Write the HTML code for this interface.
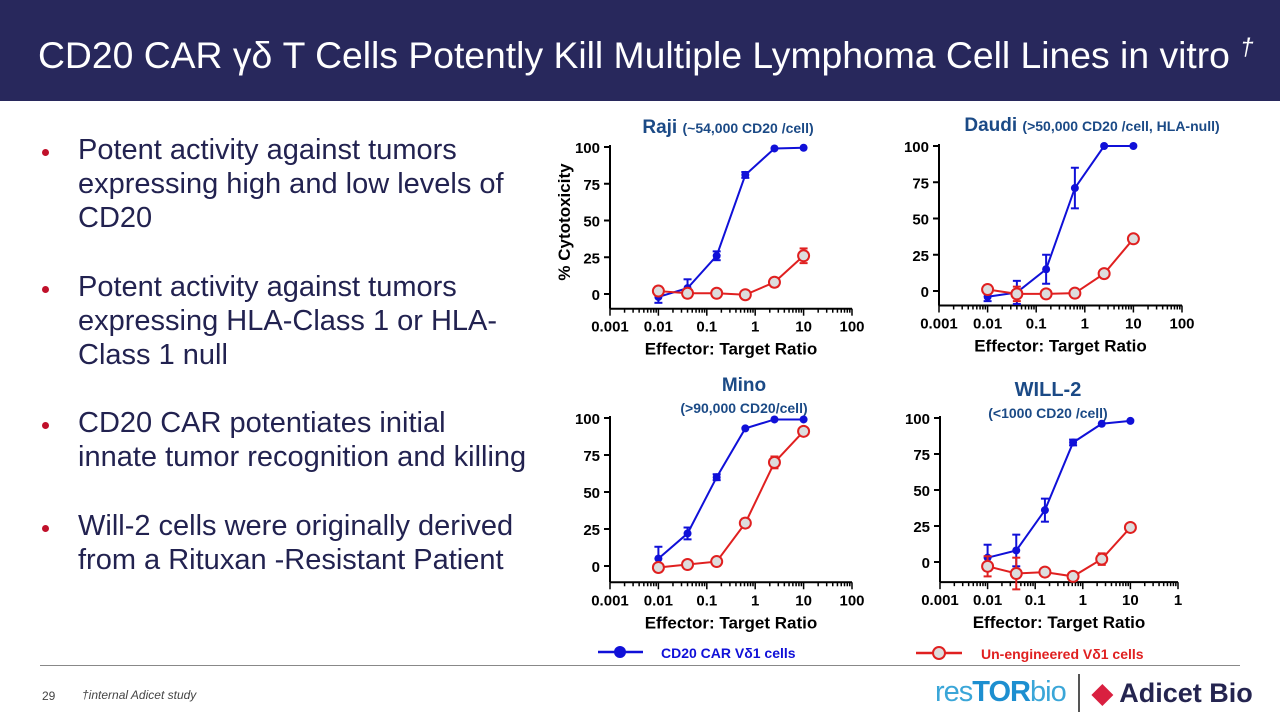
<!DOCTYPE html>
<html><head><meta charset="utf-8">
<style>
body{margin:0;width:1280px;height:720px;overflow:hidden;background:#fff;font-family:"Liberation Sans",sans-serif;position:relative}
#bar{position:absolute;left:0;top:0;width:1280px;height:101px;background:#28285c}
#title{position:absolute;left:38px;top:34px;color:#fff;font-size:37.3px;white-space:nowrap}
ul{position:absolute;left:38px;top:133px;margin:0;padding:0;list-style:none;color:#222250;font-size:29px;line-height:34.2px;width:502px}
li{position:relative;padding-left:40px;margin-bottom:34px}
li::before{content:"";position:absolute;left:4px;top:16px;width:7px;height:7px;border-radius:50%;background:#c0102a}
#rule{position:absolute;left:40px;top:665px;width:1200px;height:1px;background:#888}
#pg{position:absolute;left:42px;top:689px;font-size:12px;color:#444}
#fn{position:absolute;left:82px;top:688px;font-size:12px;font-style:italic;color:#444}
svg{position:absolute;left:0;top:0}
</style></head><body>
<div id="bar"></div>
<div id="title">CD20 CAR γδ T Cells Potently Kill Multiple Lymphoma Cell Lines in vitro <i style="font-size:24px;vertical-align:top">†</i></div>
<ul>
<li>Potent activity against tumors expressing high and low levels of CD20</li>
<li>Potent activity against tumors expressing HLA-Class 1 or HLA-Class 1 null</li>
<li>CD20 CAR potentiates initial<br>innate tumor recognition and killing</li>
<li>Will-2 cells were originally derived from a Rituxan -Resistant Patient</li>
</ul>
<div id="rule"></div>
<div id="pg">29</div>
<div id="fn">†internal Adicet study</div>
<div style="position:absolute;left:935px;top:676px;font-size:29px;color:#3aa6d8;letter-spacing:-1px">res<b style="color:#1d8fd0">TOR</b>bio</div>
<div style="position:absolute;left:1078px;top:674px;width:2px;height:38px;background:#555"></div>
<div style="position:absolute;left:1092px;top:678px;font-size:27px;font-weight:bold;color:#252550"><span style="color:#d92040">◆</span> Adicet Bio</div>
<svg id="svg" width="1280" height="720"></svg>
<script>
const xs=[0.01,0.04,0.16,0.625,2.5,10];
const rajiBlue=[-2,4,26,81,99,99.5], rajiBlueErr=[4,6,3,2,0,0];
const rajiRed=[2,0.5,0.5,-0.5,8,26], rajiRedErr=[3,3,0,0,3,5];
const daudiBlue=[-4,-1,15,71,100,100], daudiBlueErr=[3,8,10,14,0,0];
const daudiRed=[1,-2,-2,-1.5,12,36], daudiRedErr=[3,5,0,0,0,0];
const minoBlue=[5,22,60,93,99,99], minoBlueErr=[8,4,2,0,0,0];
const minoRed=[-1,1,3,29,70,91], minoRedErr=[0,0,0,3,4,0];
const willBlue=[3,8,36,83,96,98], willBlueErr=[9,11,8,2,0,0];
const willRed=[-3,-8,-7,-10,2,24], willRedErr=[7,11,0,2,4,0];
const yTicks=[0,25,50,75,100];
const xTickLabels=["0.001","0.01","0.1","1","10","100"];
const NS="http://www.w3.org/2000/svg";
const svg=document.getElementById('svg');
function mk(t,a,p){const e=document.createElementNS(NS,t);for(const k in a)e.setAttribute(k,a[k]);(p||svg).appendChild(e);return e;}
function chart(c){
  const g=mk('g',{});
  
  
  const X=v=>c.x0+(Math.log10(v)+3)/5*(c.x1-c.x0);
  const Y=v=>c.y0-(v/100)*(c.y0-c.y100);
  const yb=Y(c.ymin);
  mk('line',{x1:c.x0,y1:Y(100)-2,x2:c.x0,y2:yb,stroke:'#000','stroke-width':2},g);
  mk('line',{x1:c.x0,y1:yb,x2:c.x1,y2:yb,stroke:'#000','stroke-width':2},g);
  yTicks.forEach(t=>{mk('line',{x1:c.x0-6,y1:Y(t),x2:c.x0,y2:Y(t),stroke:'#000','stroke-width':2},g);
    const tx=mk('text',{x:c.x0-10,y:Y(t)+6,'text-anchor':'end','font-size':15,'font-weight':'bold'},g);tx.textContent=t;});
  for(let d=-3;d<2;d++)for(let m=1;m<10;m++){const v=m*Math.pow(10,d);
    mk('line',{x1:X(v),y1:yb,x2:X(v),y2:yb+(m==1?7:4),stroke:'#000','stroke-width':1.5},g);}
  mk('line',{x1:c.x1,y1:yb,x2:c.x1,y2:yb+7,stroke:'#000','stroke-width':1.5},g);
  xTickLabels.forEach((l,i)=>{const tx=mk('text',{x:X(Math.pow(10,i-3)),y:yb+23,'text-anchor':'middle','font-size':15,'font-weight':'bold'},g);tx.textContent=c.lastLabel&&i==5?c.lastLabel:l;});
  const xl=mk('text',{x:(c.x0+c.x1)/2,y:yb+46,'text-anchor':'middle','font-size':17,'font-weight':'bold'},g);xl.textContent='Effector: Target Ratio';
  c.titles.forEach(t=>{const e=mk('text',{x:t[0],y:t[1],'text-anchor':'middle','font-size':t[3],'font-weight':'bold',fill:'#1b4a86'},g);e.innerHTML=t[2];});
  [[c.blue,c.blueErr,'#1010d8',true],[c.red,c.redErr,'#e02020',false]].forEach(([ys,er,col,filled])=>{
    mk('polyline',{points:xs.map((x,i)=>X(x)+','+Y(ys[i])).join(' '),fill:'none',stroke:col,'stroke-width':2},g);
    xs.forEach((x,i)=>{if(er[i]>0){const a=X(x);
      mk('line',{x1:a,y1:Y(ys[i]-er[i]),x2:a,y2:Y(ys[i]+er[i]),stroke:col,'stroke-width':2},g);
      mk('line',{x1:a-4,y1:Y(ys[i]-er[i]),x2:a+4,y2:Y(ys[i]-er[i]),stroke:col,'stroke-width':2},g);
      mk('line',{x1:a-4,y1:Y(ys[i]+er[i]),x2:a+4,y2:Y(ys[i]+er[i]),stroke:col,'stroke-width':2},g);}
      const p=mk('circle',filled?{cx:X(x),cy:Y(ys[i]),r:4,fill:col}:{cx:X(x),cy:Y(ys[i]),r:5.5,fill:'#ddd',stroke:col,'stroke-width':2},g);
      
      });
  });
}
chart({name:'raji-chart',x0:610,x1:852,y0:294,y100:147,ymin:-10,blue:rajiBlue,blueErr:rajiBlueErr,red:rajiRed,redErr:rajiRedErr,
  titles:[[728,133,'Raji <tspan font-size="14">(~54,000 CD20 /cell)</tspan>',19]]});
chart({name:'daudi-chart',x0:939,x1:1182,y0:291,y100:146,ymin:-10,blue:daudiBlue,blueErr:daudiBlueErr,red:daudiRed,redErr:daudiRedErr,
  titles:[[1092,131,'Daudi <tspan font-size="14">(&gt;50,000 CD20 /cell, HLA-null)</tspan>',19]]});
chart({name:'mino-chart',x0:610,x1:852,y0:566,y100:418,ymin:-11,blue:minoBlue,blueErr:minoBlueErr,red:minoRed,redErr:minoRedErr,
  titles:[[744,391,'Mino',19],[744,413,'(&gt;90,000 CD20/cell)',14]]});
chart({name:'will2-chart',x0:940,x1:1178,y0:562,y100:418,ymin:-14,lastLabel:'1',blue:willBlue,blueErr:willBlueErr,red:willRed,redErr:willRedErr,
  titles:[[1048,396,'WILL-2',20],[1048,418,'(&lt;1000 CD20 /cell)',14]]});
const yl=mk('text',{x:0,y:0,transform:'translate(570,222) rotate(-90)','text-anchor':'middle','font-size':17,'font-weight':'bold'});
yl.textContent='% Cytotoxicity';


const l1=mk('g',{});
mk('line',{x1:598,y1:652,x2:643,y2:652,stroke:'#1010d8','stroke-width':2.5},l1);mk('circle',{cx:620,cy:652,r:6,fill:'#1010d8'},l1);
const t1=mk('text',{x:661,y:658,'font-size':14,'font-weight':'bold',fill:'#1010d8'},l1);t1.textContent='CD20 CAR Vδ1 cells';
const l2=mk('g',{});
mk('line',{x1:916,y1:653,x2:962,y2:653,stroke:'#e02020','stroke-width':2.5},l2);mk('circle',{cx:939,cy:653,r:6,fill:'#ddd',stroke:'#e02020','stroke-width':2},l2);
const t2=mk('text',{x:981,y:659,'font-size':14,'font-weight':'bold',fill:'#e02020'},l2);t2.textContent='Un-engineered Vδ1 cells';
</script>
</body></html>
